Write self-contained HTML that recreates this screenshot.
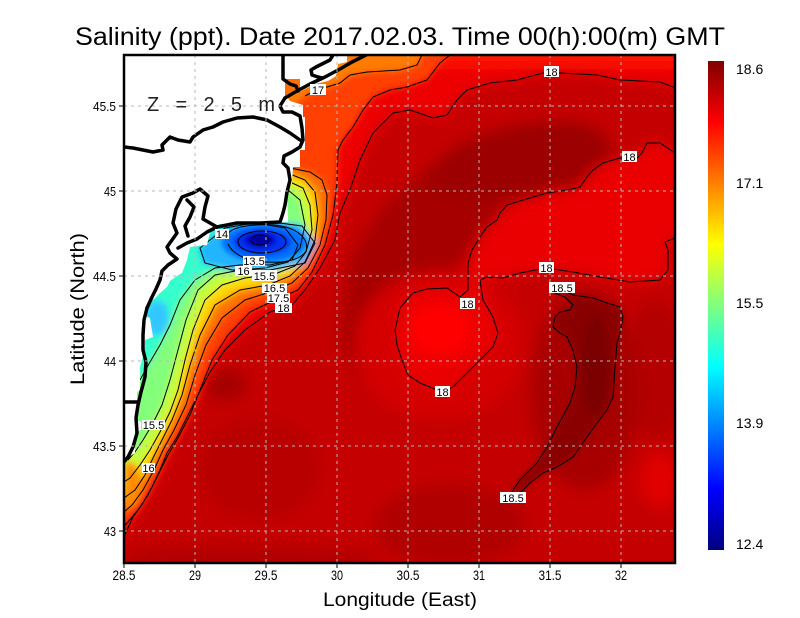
<!DOCTYPE html>
<html><head><meta charset="utf-8">
<style>
html,body{margin:0;padding:0;background:#fff;}
svg{display:block;}
text{font-family:"Liberation Sans",Arial,sans-serif;}
</style></head><body>
<svg width="800" height="618" viewBox="0 0 800 618" xmlns="http://www.w3.org/2000/svg">
<defs>
<clipPath id="pc"><rect x="124" y="55" width="551" height="508"/></clipPath>
<filter id="b8" filterUnits="userSpaceOnUse" x="0" y="0" width="800" height="618"><feGaussianBlur stdDeviation="7"/></filter>
<filter id="b4" filterUnits="userSpaceOnUse" x="0" y="0" width="800" height="618"><feGaussianBlur stdDeviation="3.5"/></filter>
<filter id="b2" filterUnits="userSpaceOnUse" x="0" y="0" width="800" height="618"><feGaussianBlur stdDeviation="2.5"/></filter>
<linearGradient id="jet" x1="0" y1="1" x2="0" y2="0">
<stop offset="0" stop-color="#000080"/>
<stop offset="0.125" stop-color="#0000ff"/>
<stop offset="0.375" stop-color="#00ffff"/>
<stop offset="0.625" stop-color="#ffff00"/>
<stop offset="0.875" stop-color="#ff0000"/>
<stop offset="1" stop-color="#800000"/>
</linearGradient>
</defs>

<!-- Title -->
<text x="75" y="45" font-size="25" textLength="650" lengthAdjust="spacingAndGlyphs">Salinity (ppt). Date 2017.02.03. Time 00(h):00(m) GMT</text>

<g clip-path="url(#pc)">
<!-- background field -->
<g filter="url(#b8)">
<rect x="60" y="20" width="680" height="600" fill="#c40000"/>
<path d="M340,340 L350,260 L380,210 L430,165 L480,140 L560,130 L620,150 L600,180 L540,195 L500,215 L470,250 L440,285 L400,295 L375,330 L360,380 Z" fill="#a60000"/>
<ellipse cx="520" cy="160" rx="90" ry="35" transform="rotate(-12 520 160)" fill="#9c0000"/>
<ellipse cx="225" cy="385" rx="22" ry="16" fill="#a60000"/>
<ellipse cx="260" cy="470" rx="60" ry="50" fill="#b80000"/>
<ellipse cx="450" cy="525" rx="75" ry="40" fill="#b00000"/>
<ellipse cx="250" cy="560" rx="130" ry="14" fill="#b00000"/>
<ellipse cx="655" cy="370" rx="30" ry="70" fill="#b40000"/>
<ellipse cx="585" cy="390" rx="55" ry="100" fill="#a80000"/>
<ellipse cx="440" cy="345" rx="85" ry="75" fill="#d40000"/>
<ellipse cx="660" cy="480" rx="20" ry="28" fill="#e00000"/>
<path d="M700,30 L700,88 L673,87 L660,82 L620,80 L597,75 L560,73 L543,73 L517,80 L490,83 L477,87 L467,90 L457,100 L447,115 L433,118 L410,110 L393,113 L373,133 L360,160 L350,190 L340,213 L335,240 L320,268 L305,290 L292,305 L270,312 L245,330 L225,350 L210,372 L197,397 L187,417 L177,437 L167,453 L160,470 L153,485 L143,503 L133,517 L127,530 L124,537 L60,540 L60,30 Z" fill="#ee0000"/>
<path d="M700,153 L675,153 L660,143 L647,143 L642,153 L637,158 L620,158 L603,163 L593,170 L587,177 L580,187 L567,190 L547,193 L523,200 L507,205 L500,213 L497,220 L487,227 L480,237 L472,250 L468,263 L468,290 L460,297 L447,288 L427,289 L413,293 L400,308 L395,330 L397,345 L402,360 L408,375 L420,383 L442,392 L453,387 L473,367 L493,347 L498,333 L493,317 L483,300 L480,280 L487,277 L503,278 L520,273 L546,268 L573,272 L600,277 L630,282 L660,280 L668,270 L668,250 L665,242 L675,238 L700,238 Z" fill="#ea0000"/>
<ellipse cx="440" cy="330" rx="32" ry="26" fill="#ff0000"/>
<rect x="420" y="40" width="300" height="25" fill="#ff1200"/>
</g>
<g filter="url(#b4)">
<path d="M562,290 L573,295 L593,298 L607,303 L620,307 L623,317 L620,333 L617,343 L615,367 L613,397 L607,410 L597,423 L587,437 L573,457 L557,467 L543,473 L530,483 L520,493 L513,499 L513,490 L520,480 L537,463 L547,447 L557,427 L570,403 L575,387 L577,367 L573,350 L567,337 L560,333 L553,327 L555,317 L560,312 L570,310 L573,305 L565,297 Z" fill="#8a0000"/>
<ellipse cx="595" cy="365" rx="14" ry="50" fill="#7c0000"/>
<!-- plume / coastal bands -->
<path d="M60,30 L470,30 L450,55 L440,63 L427,80 L407,87 L390,90 L373,97 L363,110 L353,127 L343,140 L338,150 L337,183 L333,215 L325,245 L312,272 L298,290 L275,300 L250,312 L228,335 L212,360 L200,390 L190,415 L178,438 L168,455 L158,475 L148,495 L138,510 L128,522 L124,526 L60,528 Z" fill="#ff4000"/>
<path d="M60,30 L430,30 L422,55 L417,65 L400,70 L367,72 L350,75 L340,83 L327,87 L318,89 L305,96 L295,104 L60,104 Z" fill="#ff7c00"/>
<ellipse cx="325" cy="62" rx="20" ry="10" fill="#ff9000"/>
<path d="M60,160 L285,165 L310,172 L322,180 L327,195 L326,220 L320,245 L308,268 L292,283 L270,292 L245,300 L222,318 L206,345 L195,375 L186,405 L174,430 L163,450 L154,470 L143,490 L132,505 L124,512 L60,514 Z" fill="#ff7400"/>
<path d="M60,170 L290,174 L305,180 L315,192 L318,215 L315,240 L305,262 L290,276 L268,285 L240,290 L215,305 L200,335 L190,365 L182,395 L172,420 L162,440 L153,458 L145,475 L135,490 L124,498 L60,500 Z" fill="#ffd400"/>
<path d="M60,178 L290,182 L303,188 L310,205 L312,230 L306,252 L295,266 L275,274 L245,278 L222,285 L205,300 L193,330 L185,360 L178,390 L170,412 L160,432 L150,450 L140,465 L130,478 L124,482 L60,484 Z" fill="#c4ff3c"/>
<path d="M60,186 L288,190 L300,200 L305,225 L300,248 L288,262 L265,268 L240,270 L215,275 L198,290 L186,320 L178,350 L170,380 L162,405 L152,425 L143,440 L135,452 L60,455 Z" fill="#84ff7c"/>
<path d="M124,462 L134,462 L140,475 L142,492 L136,505 L124,510 Z" fill="#ff8c00"/>
<path d="M60,200 L250,222 L285,228 L298,245 L292,260 L270,265 L240,265 L215,268 L195,280 L180,300 L170,325 L160,345 L150,362 L140,380 L60,382 Z" fill="#34ffcc"/>
<ellipse cx="157" cy="318" rx="12" ry="18" fill="#30c8ff"/>
<path d="M198,248 L222,227 L265,220 L302,225 L316,243 L306,263 L270,271 L230,271 L203,264 Z" fill="#20b4ff"/>
</g>
<g filter="url(#b2)">
<ellipse cx="264" cy="243" rx="42" ry="19" fill="#0070ff"/>
<ellipse cx="262" cy="242" rx="29" ry="13" fill="#0030f0"/>
<ellipse cx="260" cy="240" rx="16" ry="8" fill="#0000c4"/>
<ellipse cx="259" cy="239" rx="6" ry="4" fill="#000090"/>
</g>

<!-- contour lines -->
<g fill="none" stroke="#000" stroke-width="1">
<path d="M675,87 L673,87 L660,82 L620,80 L597,75 L560,73 L543,73 L517,80 L490,83 L477,87 L467,90 L457,100 L447,115 L433,118 L410,110 L393,113 L373,133 L360,160 L350,190 L340,213 L335,240 L320,268 L305,290 L292,305 L270,312 L245,330 L225,350 L210,372 L197,397 L187,417 L177,437 L167,453 L160,470 L153,485 L143,503 L133,517 L127,530 L124,537"/>
<path d="M450,55 L440,63 L427,80 L407,87 L390,90 L373,97 L363,110 L353,127 L343,140 L338,150 L337,183 L333,215 L325,245 L312,272 L298,290 L275,300 L250,312 L228,335 L212,360 L200,390 L190,415 L178,438 L168,455 L158,475 L148,495 L138,510 L128,522 L124,526"/>
<path d="M305,96 L318,89 L327,87 L340,83 L350,75 L367,72 L400,70 L417,65 L422,55"/>
<path d="M290,168 L310,172 L322,180 L327,195 L326,220 L320,245 L308,268 L292,283 L270,292 L245,300 L222,318 L206,345 L195,375 L186,405 L174,430 L163,450 L154,470 L143,490 L132,505 L124,512"/>
<path d="M290,174 L305,180 L315,192 L318,215 L315,240 L305,262 L290,276 L268,285 L240,290 L215,305 L200,335 L190,365 L182,395 L172,420 L162,440 L153,458 L145,475 L135,490 L124,498"/>
<path d="M290,182 L303,188 L310,205 L312,230 L306,252 L295,266 L275,274 L245,278 L222,285 L205,300 L193,330 L185,360 L178,390 L170,412 L160,432 L150,450 L140,465 L130,478 L124,482"/>
<path d="M288,190 L300,200 L305,225 L300,248 L288,262 L265,268 L240,270 L215,275 L198,290 L186,320 L178,350 L170,380 L162,405 L152,425 L143,440 L135,452 L128,460"/>
<path d="M250,222 L285,228 L298,245 L292,260 L270,265 L240,265 L215,268 L195,280 L180,300 L170,325 L160,345 L150,362 L140,380"/>
<path d="M200,248 L225,228 L265,221 L302,226 L315,243 L305,263 L270,270 L232,270 L205,263 Z"/>
<path d="M228,234 C232,226 255,224 275,225 C300,228 309,240 306,251 C300,261 282,263 265,262 C245,261 232,253 228,244"/>
<ellipse cx="262" cy="242" rx="24" ry="11"/>
<ellipse cx="260" cy="240" rx="9" ry="5"/>
<path d="M675,153 L660,143 L647,143 L642,153 L637,158 L620,158 L603,163 L593,170 L587,177 L580,187 L567,190 L547,193 L523,200 L507,205 L500,213 L497,220 L487,227 L480,237 L472,250 L468,263 L468,290 L460,297 L447,288 L427,289 L413,293 L400,308 L395,330 L397,345 L402,360 L408,375 L420,383 L442,392 L453,387 L473,367 L493,347 L498,333 L493,317 L483,300 L480,280 L487,277 L503,278 L520,273 L546,268 L573,272 L600,277 L630,282 L660,280 L668,270 L668,250 L665,242 L675,238"/>
<path d="M562,290 L573,295 L593,298 L607,303 L620,307 L623,317 L620,333 L617,343 L615,367 L613,397 L607,410 L597,423 L587,437 L573,457 L557,467 L543,473 L530,483 L520,493 L513,499 L513,490 L520,480 L537,463 L547,447 L557,427 L570,403 L575,387 L577,367 L573,350 L567,337 L560,333 L553,327 L555,317 L560,312 L570,310 L573,305 L565,297 L552,292"/>
</g>

<!-- land -->
<path d="M60,30 L347,30 L347,62 L338,64 L336,76 L328,81 L315,84 L305,89 L297,93 L288,98 L290,101 L303,105 L303,117 L305,117 L305,150 L300,150 L300,167 L293,167 L292,183 L287,190 L288,222 L220,224 L215,228 L210,232 L207,245 L190,247 L187,260 L182,273 L177,276 L170,281 L167,287 L160,293 L150,303 L145,307 L145,316 L150,318 L153,337 L145,340 L145,347 L142,360 L140,367 L140,390 L137,392 L137,420 L141,422 L141,430 L135,432 L135,453 L132,455 L127,457 L124,463 L60,463 Z" fill="#ffffff"/>
<path d="M285,79 L300,79 L300,89 L287,97 L285,97 Z" fill="#ff7000"/>

<!-- coastline -->
<g fill="none" stroke="#000" stroke-width="3.5" stroke-linejoin="round" stroke-linecap="round">
<path d="M283,55 L283,79 L290,84 L296,86 L298,91"/>
<path d="M333,55 L330,60 L322,64 L316,67 L311,70 L312,75 L318,77 L322,78"/>
<path d="M285,98 L297,91 L310,84 L325,77 L340,69 L352,62 L362,57 L366,55"/>
<path d="M285,98 L280,106 L283,112 L292,112 L300,116 L302,128 L303,140 L300,147 L292,152 L284,156 L283,163 L288,168 L290,180 L287,192 L285,205 L283,213 L280,222 L260,223 L237,223 L217,227 L207,232 L197,239 L187,243 L178,248"/>
<path d="M124,147 L133,148 L143,150 L153,152 L163,150 L162,145 L170,137 L178,140 L190,142 L193,137 L203,130 L213,127 L223,122 L237,118 L253,117 L267,120 L280,127 L290,133 L300,140"/>
<path d="M217,227 L203,219 L205,207 L208,196 L200,189 L193,193 L182,197 L176,209 L173,223 L177,233 L172,240 L167,247 L170,253 L177,259 L168,265 L162,271 L160,280 L156,289 L152,297 L147,308 L144,320 L143,335 L143,350 L146,362 L145,377 L141,392 L138,405 L136,418 L137,433 L133,447 L128,457 L124,462"/>
<path d="M187,200 L194,207 L190,217 L185,226 L188,236"/>
<path d="M124,402 L138,402"/>
</g>

<!-- grid -->
<g stroke="#b8b8b8" stroke-width="1" stroke-dasharray="3,4">
<path d="M195,55 V563 M266,55 V563 M337,55 V563 M408,55 V563 M479,55 V563 M550,55 V563 M621,55 V563"/>
<path d="M124,106 H675 M124,191 H675 M124,276 H675 M124,361 H675 M124,446 H675 M124,531 H675"/>
</g>

<!-- contour labels -->
<g font-size="11" text-anchor="middle">
<rect x="544" y="66" width="15" height="11" fill="#fff"/><text x="551.5" y="76">18</text>
<rect x="622" y="151" width="15" height="11" fill="#fff"/><text x="629.5" y="161">18</text>
<rect x="539" y="262" width="15" height="11" fill="#fff"/><text x="546.5" y="272">18</text>
<rect x="549" y="282" width="26" height="11" fill="#fff"/><text x="562" y="292">18.5</text>
<rect x="460" y="298" width="15" height="11" fill="#fff"/><text x="467.5" y="308">18</text>
<rect x="435" y="386" width="15" height="11" fill="#fff"/><text x="442.5" y="396">18</text>
<rect x="500" y="492" width="26" height="11" fill="#fff"/><text x="513" y="502">18.5</text>
<rect x="310" y="84" width="16" height="11" fill="#fff"/><text x="318" y="94">17</text>
<rect x="215" y="229" width="14" height="10" fill="#fff"/><text x="222" y="238">14</text>
<rect x="243" y="256" width="22" height="10" fill="#fff"/><text x="254" y="265">13.5</text>
<rect x="235" y="266" width="17" height="10" fill="#fff"/><text x="243.5" y="275">16</text>
<rect x="252" y="270" width="25" height="11" fill="#fff"/><text x="264.5" y="280">15.5</text>
<rect x="262" y="283" width="25" height="10" fill="#fff"/><text x="274.5" y="292">16.5</text>
<rect x="267" y="293" width="23" height="10" fill="#fff"/><text x="278.5" y="302">17.5</text>
<rect x="275" y="303" width="17" height="10" fill="#fff"/><text x="283.5" y="312">18</text>
<rect x="142" y="420" width="23" height="10" fill="#fff"/><text x="153.5" y="429">15.5</text>
<rect x="142" y="463" width="13" height="10" fill="#fff"/><text x="148.5" y="472">16</text>
</g>

<text x="147" y="111" font-size="20" fill="#222" textLength="128" lengthAdjust="spacing">Z = 2.5 m</text>
</g>

<!-- frame -->
<rect x="124" y="55" width="551" height="508" fill="none" stroke="#000" stroke-width="2.5"/>

<!-- ticks -->
<g stroke="#000" stroke-width="1">
<path d="M124,563 V568 M195,563 V568 M266,563 V568 M337,563 V568 M408,563 V568 M479,563 V568 M550,563 V568 M621,563 V568"/>
<path d="M119,106 H124 M119,191 H124 M119,276 H124 M119,361 H124 M119,446 H124 M119,531 H124"/>
</g>

<!-- x labels -->
<g font-size="14" text-anchor="middle">
<text x="124" y="580" textLength="23" lengthAdjust="spacingAndGlyphs">28.5</text>
<text x="195" y="580" textLength="12" lengthAdjust="spacingAndGlyphs">29</text>
<text x="266" y="580" textLength="23" lengthAdjust="spacingAndGlyphs">29.5</text>
<text x="337" y="580" textLength="12" lengthAdjust="spacingAndGlyphs">30</text>
<text x="408" y="580" textLength="23" lengthAdjust="spacingAndGlyphs">30.5</text>
<text x="479" y="580" textLength="12" lengthAdjust="spacingAndGlyphs">31</text>
<text x="550" y="580" textLength="23" lengthAdjust="spacingAndGlyphs">31.5</text>
<text x="621" y="580" textLength="12" lengthAdjust="spacingAndGlyphs">32</text>
</g>
<!-- y labels -->
<g font-size="13" text-anchor="end">
<text x="116" y="111" textLength="23" lengthAdjust="spacingAndGlyphs">45.5</text>
<text x="116" y="196" textLength="12" lengthAdjust="spacingAndGlyphs">45</text>
<text x="116" y="281" textLength="23" lengthAdjust="spacingAndGlyphs">44.5</text>
<text x="116" y="366" textLength="12" lengthAdjust="spacingAndGlyphs">44</text>
<text x="116" y="451" textLength="23" lengthAdjust="spacingAndGlyphs">43.5</text>
<text x="116" y="536" textLength="12" lengthAdjust="spacingAndGlyphs">43</text>
</g>

<text x="323" y="606" font-size="19" textLength="154" lengthAdjust="spacingAndGlyphs">Longitude (East)</text>
<text transform="translate(84,385) rotate(-90)" font-size="19" textLength="152" lengthAdjust="spacingAndGlyphs">Latitude (North)</text>

<!-- colorbar -->
<rect x="708" y="61" width="16" height="489" fill="url(#jet)"/>
<g font-size="14">
<text x="736" y="74">18.6</text>
<text x="736" y="188">17.1</text>
<text x="736" y="308">15.5</text>
<text x="736" y="428">13.9</text>
<text x="736" y="549">12.4</text>
</g>
</svg>
</body></html>
